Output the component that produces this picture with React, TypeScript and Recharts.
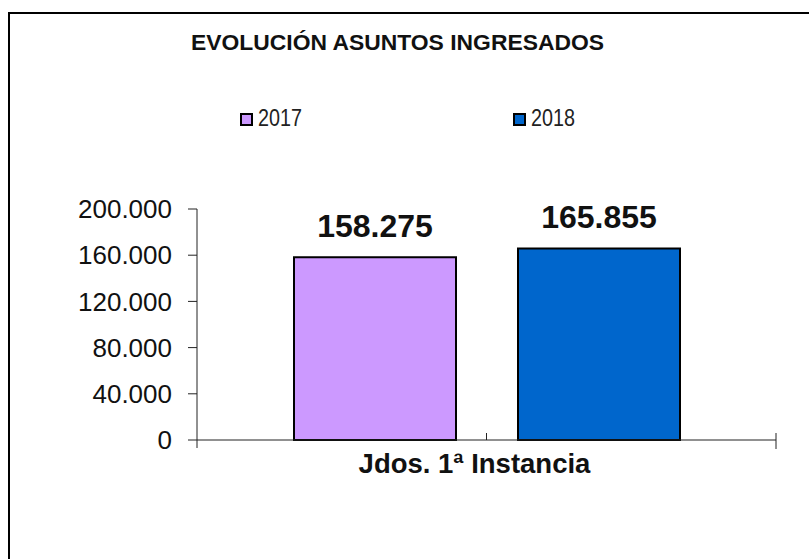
import { BarChart, Bar, XAxis, YAxis, LabelList } from "recharts";

const categories = ["Jdos. 1ª Instancia"];
const years = ["2017", "2018"];
const values2017 = [158275];
const values2018 = [165855];
const yTicks = [0, 40000, 80000, 120000, 160000, 200000];

const COLORS: Record<string, string> = { "2017": "#CC99FF", "2018": "#0066CC" };

const data = categories.map((name, i) => ({
  name,
  "2017": values2017[i],
  "2018": values2018[i],
}));

const W = 809;
const H = 559;
const MARGIN = { top: 209, right: 33, left: 0, bottom: 79 };
const Y_AXIS_W = 197;
const HALF_BAND = (W - MARGIN.left - MARGIN.right - Y_AXIS_W) / 2;
const FONT = "'Liberation Sans', Arial, sans-serif";

const fmt = (n: number) => String(n).replace(/\B(?=(\d{3})+(?!\d))/g, ".");

function CategoryTick({ x, y, payload }: any) {
  return (
    <g>
      <line x1={x} x2={x} y1={y - 7} y2={y} stroke="#222" />
      <line x1={x - HALF_BAND} x2={x - HALF_BAND} y1={y} y2={y + 8} stroke="#222" />
      <line x1={x + HALF_BAND} x2={x + HALF_BAND} y1={y - 7} y2={y + 9} stroke="#222" />
      <text
        x={x - 12}
        y={y + 33}
        textAnchor="middle"
        fontSize={27.5}
        fontWeight="bold"
        fill="#111"
        fontFamily={FONT}
      >
        {payload.value}
      </text>
    </g>
  );
}

export default function App() {
  return (
    <div style={{ position: "absolute", left: 0, top: 0, width: W, height: H, background: "#fff", overflow: "hidden" }}>
      <div
        style={{
          position: "absolute",
          left: 8,
          top: 12,
          width: W,
          height: H,
          borderTop: "2px solid #000",
          borderLeft: "2px solid #000",
        }}
      />
      <svg width={W} height={150} style={{ position: "absolute", left: 0, top: 0 }} fontFamily={FONT}>
        <text x={191} y={50} fontSize={22.5} fontWeight="bold" fill="#111" textLength={413} lengthAdjust="spacingAndGlyphs">
          EVOLUCIÓN ASUNTOS INGRESADOS
        </text>
        {years.map((yr, i) => {
          const left = 240 + i * 273;
          return (
            <g key={yr}>
              <rect x={left + 1} y={114} width={11} height={11} fill={COLORS[yr]} stroke="#000" strokeWidth={2} />
              <text x={left + 18} y={126} fontSize={23} fill="#222" textLength={44} lengthAdjust="spacingAndGlyphs">
                {yr}
              </text>
            </g>
          );
        })}
      </svg>
      <div style={{ position: "absolute", left: 0, top: 0 }}>
        <BarChart width={W} height={H} data={data} margin={MARGIN} barSize={162} barGap={62}>
          <XAxis
            dataKey="name"
            height={40}
            axisLine={{ stroke: "#222" }}
            tickLine={false}
            tickSize={0}
            tickMargin={0}
            tick={<CategoryTick />}
            interval={0}
          />
          <YAxis
            width={Y_AXIS_W}
            domain={[0, 200000]}
            ticks={yTicks}
            tickFormatter={fmt}
            axisLine={{ stroke: "#222" }}
            tickLine={{ stroke: "#222" }}
            tickSize={9}
            tickMargin={16}
            tick={{ fontSize: 26, fill: "#111", fontFamily: FONT }}
          />
          {years.map((yr) => (
            <Bar key={yr} dataKey={yr} fill={COLORS[yr]} stroke="#000" strokeWidth={2} isAnimationActive={false}>
              <LabelList
                dataKey={yr}
                position="top"
                offset={20}
                formatter={(v: any) => fmt(Number(v))}
                style={{ fontSize: 32, fontWeight: "bold", fill: "#111", fontFamily: FONT }}
              />
            </Bar>
          ))}
        </BarChart>
      </div>
    </div>
  );
}
